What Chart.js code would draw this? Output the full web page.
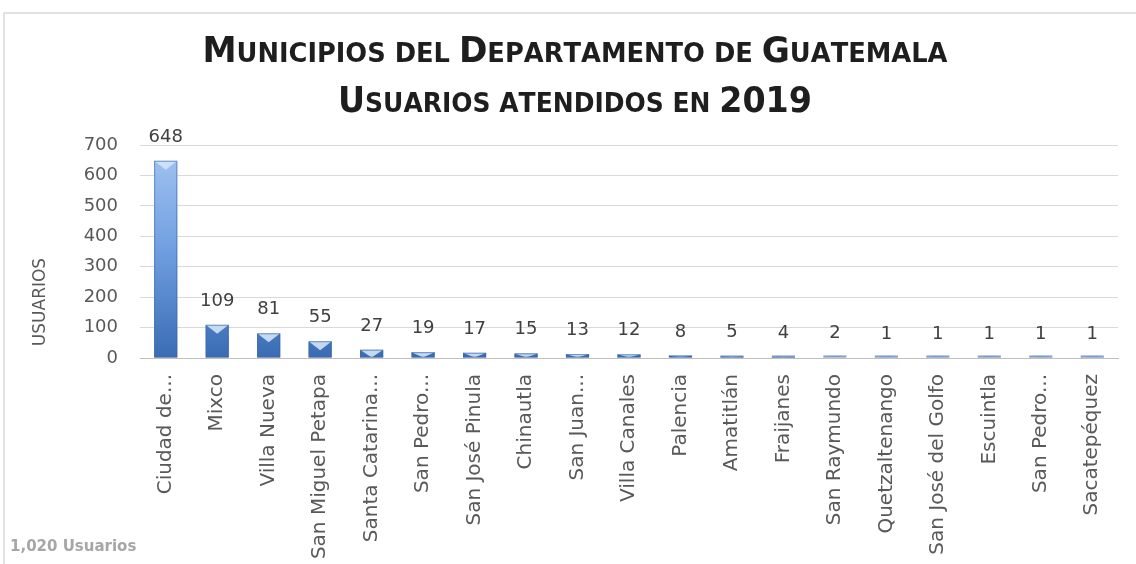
<!DOCTYPE html>
<html>
<head>
<meta charset="utf-8">
<script src="https://cdn.jsdelivr.net/npm/chart.js@4.4.0/dist/chart.umd.min.js"></script>
<style>
html, body { margin: 0; padding: 0; background: #fff; }
</style>
</head>
<body>
<canvas id="barGraph" width="1136" height="564"></canvas>
<script>
// datos
var municipios = ['Ciudad de...', 'Mixco', 'Villa Nueva', 'San Miguel Petapa', 'Santa Catarina...', 'San Pedro...',
    'San José Pinula', 'Chinautla', 'San Juan...', 'Villa Canales', 'Palencia', 'Amatitlán', 'Fraijanes',
    'San Raymundo', 'Quetzaltenango', 'San José del Golfo', 'Escuintla', 'San Pedro...', 'Sacatepéquez'];
var usuarios = [648, 109, 81, 55, 27, 19, 17, 15, 13, 12, 8, 5, 4, 2, 1, 1, 1, 1, 1];
var yTicks = [0, 100, 200, 300, 400, 500, 600, 700];
var titulo = ['Municipios del Departamento de Guatemala', 'Usuarios atendidos en 2019'];
var ejeY = 'USUARIOS';
var total = '1,020 Usuarios';

var fuente = '"DejaVu Sans", sans-serif';
var fuenteTitulo = '"Liberation Sans Narrow", "DejaVu Sans Condensed", sans-serif';

// titulo en versalitas
function versalitas(ctx, text, cx, base, big, small, ancho) {
    var parts = [];
    for (var i = 0; i < text.length; i++) {
        var ch = text[i];
        var grande = ch !== ch.toLowerCase() || /[0-9]/.test(ch);
        ctx.font = 'bold ' + (grande ? big : small) + 'px ' + fuenteTitulo;
        var t = grande ? ch : ch.toUpperCase();
        parts.push({ t: t, f: ctx.font, w: ctx.measureText(t).width });
    }
    var w = parts.reduce(function(a, p) { return a + p.w; }, 0);
    var sx = ancho / w;
    ctx.save();
    ctx.translate(cx - ancho / 2, base);
    ctx.scale(sx, 1);
    ctx.fillStyle = '#1e1e1e';
    ctx.textBaseline = 'alphabetic';
    ctx.textAlign = 'left';
    var x = 0;
    parts.forEach(function(p) {
        ctx.font = p.f;
        ctx.fillText(p.t, x, 0);
        x += p.w;
    });
    ctx.restore();
}

var adornos = {
    id: 'adornos',
    beforeDraw: function(chart) {
        var ctx = chart.ctx;
        ctx.save();
        ctx.fillStyle = '#fff';
        ctx.fillRect(0, 0, chart.width, chart.height);
        ctx.strokeStyle = '#d9d9d9';
        ctx.lineWidth = 1.5;
        ctx.beginPath();
        ctx.moveTo(4, chart.height);
        ctx.lineTo(4, 13);
        ctx.lineTo(chart.width, 13);
        ctx.stroke();
        ctx.restore();
    },
    afterDatasetsDraw: function(chart) {
        var ctx = chart.ctx;
        var meta = chart.getDatasetMeta(0);
        ctx.save();
        meta.data.forEach(function(bar, i) {
            // bisel superior
            var h = Math.max(bar.base - bar.y, 2);
            var w = bar.width;
            var th = Math.min(9, h);
            ctx.fillStyle = 'rgba(210,228,250,0.9)';
            ctx.beginPath();
            ctx.moveTo(bar.x - w / 2, bar.base - h);
            ctx.lineTo(bar.x + w / 2, bar.base - h);
            ctx.lineTo(bar.x, bar.base - h + th);
            ctx.closePath();
            ctx.fill();
            ctx.strokeStyle = 'rgba(60,100,160,0.6)';
            ctx.lineWidth = 1;
            ctx.strokeRect(bar.x - w / 2 + 0.5, bar.base - h + 0.5, w - 1, h - 1);
            // valor
            ctx.fillStyle = '#404040';
            ctx.font = '18px ' + fuente;
            ctx.textAlign = 'center';
            ctx.textBaseline = 'alphabetic';
            ctx.fillText(usuarios[i], bar.x, bar.y - 19);
        });
        ctx.restore();
    },
    afterDraw: function(chart) {
        var ctx = chart.ctx;
        versalitas(ctx, titulo[0], 575, 62, 36, 27, 745);
        versalitas(ctx, titulo[1], 575, 112, 36, 27, 474);
        ctx.save();
        ctx.fillStyle = '#595959';
        ctx.font = '17px ' + fuente;
        ctx.textAlign = 'center';
        ctx.textBaseline = 'middle';
        ctx.translate(41, 302);
        ctx.rotate(-Math.PI / 2);
        ctx.fillText(ejeY, 0, 0);
        ctx.restore();
        ctx.save();
        ctx.fillStyle = '#a6a6a6';
        ctx.font = 'bold 15px ' + fuente;
        ctx.textAlign = 'left';
        ctx.textBaseline = 'alphabetic';
        ctx.fillText(total, 10, 551);
        ctx.restore();
    }
};

var ctx = document.getElementById('barGraph').getContext('2d');

var data = {
    labels: municipios,
    datasets: [{
        data: usuarios,
        backgroundColor: function(c) {
            var chart = c.chart;
            var ca = chart.chartArea;
            if (!ca) return '#4f81bd';
            var g = chart.ctx.createLinearGradient(0, ca.top, 0, ca.bottom);
            g.addColorStop(0, '#a4c6f2');
            g.addColorStop(0.5, '#6f9ee0');
            g.addColorStop(1, '#3a6cb4');
            return g;
        },
        borderWidth: 0,
        barPercentage: 0.45,
        categoryPercentage: 1,
    }],
};

var options = {
    responsive: false,
    animation: false,
    layout: { padding: { top: 145, right: 18, left: 0, bottom: 0 } },
    scales: {
        x: {
            grid: { display: false, drawTicks: false },
            border: { display: true, color: '#bfbfbf' },
            ticks: {
                autoSkip: false,
                minRotation: 90,
                maxRotation: 90,
                padding: 16,
                color: '#595959',
                font: { family: fuente, size: 20 },
            },
            afterFit: function(s) { s.height = 206; }
        },
        y: {
            min: 0,
            max: 700,
            grid: { color: '#d9d9d9', drawTicks: false },
            border: { display: false },
            ticks: {
                padding: 22,
                color: '#595959',
                font: { family: fuente, size: 18 },
            },
            afterBuildTicks: function(s) {
                s.ticks = yTicks.map(function(v) { return { value: v }; });
            },
            afterFit: function(s) { s.width = 140; }
        }
    },
    plugins: {
        legend: false,
        tooltip: { enabled: false }
    }
};

var ex_chart = new Chart(ctx, {
    type: 'bar',
    data: data,
    options: options,
    plugins: [adornos]
});
</script>
</body>
</html>
